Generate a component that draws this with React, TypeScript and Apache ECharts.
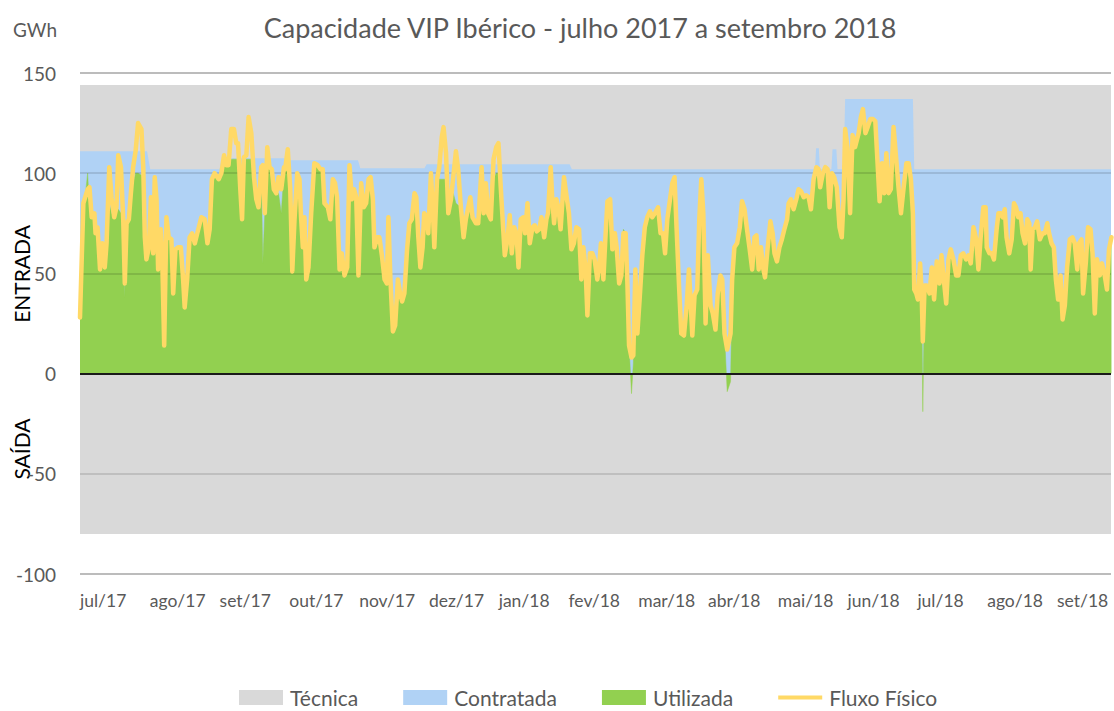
import React, { useEffect, useRef } from 'react';
import * as echarts from 'echarts';

const monthLabels = ['jul/17', 'ago/17', 'set/17', 'out/17', 'nov/17', 'dez/17', 'jan/18', 'fev/18', 'mar/18', 'abr/18', 'mai/18', 'jun/18', 'jul/18', 'ago/18', 'set/18'];
const yTicks = [-100, -50, 0, 50, 100, 150];
const lastDay = 458;
const tecnicaEntrada = 144;
const tecnicaSaida = -80;

const contratada: number[][] = [
  [0, 111], [29.8, 111], [31.2, 102], [62, 102], [63, 107.5], [92, 107.5], [92.5, 106.5], [123.5, 106.5], [124.5, 102.5],
  [153, 102.5], [154, 104.5], [217.5, 104.5], [218.5, 102], [326.5, 102], [327, 112.5], [328.2, 112.5], [328.7, 102],
  [333.8, 102], [334.3, 112], [336, 112], [336.5, 102], [339.2, 102], [339.9, 137], [370, 137], [370.6, 102], [458, 102],
];

const fluxoFisico: number[][] = [
  [0, 28], [1.5, 85], [3.4, 92], [4.2, 93], [5.2, 78], [6.4, 80], [6.9, 70], [7.8, 73], [8.9, 52], [9.9, 65], [11, 53], [11.8, 65],
  [13, 103], [14, 88], [15.2, 78], [16.2, 83], [17, 109], [18.2, 103], [19.2, 77], [19.9, 45], [20.7, 75], [21.7, 77], [22.6, 90],
  [23.6, 103], [24.7, 111], [25.8, 125], [27.3, 122], [28.1, 103], [28.8, 68], [29.5, 57], [30.6, 63], [31.5, 88], [32.5, 60],
  [33.2, 98], [34, 87], [34.7, 52], [35.9, 72], [36.5, 59], [37.4, 14], [38.4, 78], [39.4, 68], [40.6, 67], [41.4, 40], [42.4, 62],
  [43.6, 63], [44.8, 63], [45.8, 47], [46.5, 33], [47.6, 47], [48.7, 68], [49.8, 70], [51, 65], [52.1, 70], [53.9, 78],
  [55.4, 77], [56.6, 65], [57.6, 72], [58.6, 97], [59.8, 100], [61.6, 97], [62.8, 100], [64, 109], [65, 104], [66, 104],
  [67.2, 122], [68.4, 122], [69.4, 115], [70.2, 115], [71.2, 92], [72, 77], [72.8, 108], [73.9, 109], [74.9, 128], [76.1, 120],
  [77.3, 98], [78.3, 87], [79.3, 83], [80.5, 103], [81.2, 104], [82.1, 80], [83.2, 113], [84.2, 103], [85.2, 102], [86.1, 92],
  [87.2, 90], [88.2, 98], [89.4, 92], [90.6, 103], [91.1, 102], [92.3, 112], [93.4, 92], [94.3, 51], [95.3, 77], [96.5, 100],
  [97.5, 97], [98.2, 78], [99, 63], [99.7, 78], [100.5, 47], [101.5, 53], [102.7, 80], [104.1, 105], [105.6, 104], [106.8, 102],
  [107.8, 102], [108.6, 85], [110.1, 83], [111.2, 77], [112.3, 97], [113.3, 95], [114.2, 88], [115.3, 52],
  [116.3, 60], [117.5, 49], [118.7, 53], [119.7, 104], [120.8, 87], [121.7, 92], [122.7, 88], [123.7, 49], [124.9, 95],
  [126.1, 83], [127.1, 85], [128.2, 97], [129.1, 98], [130.1, 87], [130.8, 63], [132, 68], [133, 68], [134.1, 59], [135.3, 47],
  [136.3, 45], [137, 78], [137.9, 47], [139, 21], [140, 24], [141.2, 47], [142.2, 40], [143.1, 36], [144.1, 40], [145.3, 62],
  [146.3, 75], [147.4, 77], [148.6, 90], [149.4, 88], [150.3, 68], [151.2, 53], [152.2, 63], [152.9, 80], [154.2, 78],
  [154.7, 70], [155.9, 100], [156.7, 83], [157.4, 63], [158.6, 97], [159.6, 103], [160.7, 118], [161.5, 123], [162.6, 110],
  [163.6, 80], [164.8, 87], [165.8, 98], [167, 111], [168, 102], [169.2, 83], [170.4, 68], [171.4, 77],
  [173.4, 88], [174.4, 78], [175.9, 75], [176.9, 75], [178.4, 103], [179.3, 80], [180.3, 95], [181.3, 80], [182.5, 77],
  [183.7, 107], [184.9, 113], [185.9, 115], [186.9, 93], [188, 72], [188.7, 59], [189.9, 67], [190.9, 79], [191.8, 60],
  [192.9, 73], [193.9, 70], [194.8, 53], [195.8, 77], [196.9, 78], [197.7, 70], [198.8, 85], [199.8, 65], [201, 73], [202, 74],
  [202.9, 71], [204, 72], [205, 78], [206.2, 68], [207.2, 77], [207.9, 80], [209.1, 103], [209.8, 87], [210.6, 75], [211.6, 87],
  [212.5, 83], [213.5, 72], [215, 98], [216.2, 88], [217.2, 80], [218.3, 62], [219.4, 65], [220.5, 73], [221.7, 72], [222.7, 47],
  [223.6, 63], [224.6, 52], [225.4, 29], [226.5, 60], [227.6, 60], [228.6, 57], [229.8, 47],
  [230.6, 53], [231.4, 65], [232.5, 47], [233.6, 72], [234.3, 86], [235.5, 87], [236.5, 62], [237.6, 70], [238.4, 63],
  [239.5, 45], [240.5, 49], [241.4, 70], [242.4, 70], [243.2, 44], [243.9, 14], [245, 8], [245.8, 9], [246.7, 52], [247.6, 20],
  [248.6, 37], [249.8, 59], [250.9, 73], [252, 78], [253.2, 81], [254.2, 78], [255.4, 80], [256.8, 83], [257.9, 70], [259, 70],
  [259.9, 60], [260.9, 77], [262.1, 87], [263.1, 95], [264.1, 98], [265, 73], [266.1, 44], [267.1, 20], [268.3, 19], [269.5, 34],
  [270.5, 52], [271.2, 37], [272, 19], [273, 39], [274.2, 42], [275.1, 77], [276, 97], [276.9, 80], [277.9, 25], [278.9, 59],
  [280.1, 34], [281.1, 30], [282.3, 22], [283.3, 40], [284.5, 49], [285.3, 47], [286.3, 20], [287.5, 12],
  [289, 20], [289.7, 47], [290.7, 63], [291.9, 65], [293.1, 73], [294.1, 86], [295.2, 82], [296.3, 72], [297.5, 62], [298.6, 52],
  [299.6, 68], [300.5, 69], [301.5, 52], [302.5, 63], [303.4, 53], [304.3, 48], [305.5, 63], [306.7, 76], [307.7, 70], [308.5, 60],
  [309.6, 56], [310.7, 63], [311.8, 67], [312.9, 72], [314.1, 77], [314.8, 85], [315.8, 87], [317, 82], [318.2, 87], [319.2, 92],
  [320.3, 91], [321.5, 88], [322.6, 89], [323.7, 88], [324.7, 82], [325.9, 97], [327.1, 103], [328.1, 102], [328.8, 93], [330, 100],
  [331.1, 103], [332.1, 102], [333, 83], [334, 100], [335, 98], [336.2, 93], [337.4, 73], [338.4, 68], [339.2, 87], [339.9, 122],
  [340.9, 113], [342.1, 80], [343.2, 119], [344.3, 113],
  [345.9, 120], [346.9, 128], [347.8, 132], [348.9, 120], [349.9, 123], [351.1, 127], [352.3, 127], [353.3, 126], [354.3, 105],
  [355.2, 86], [356.3, 105], [357.3, 90], [358.2, 110], [359.2, 90], [360.2, 92], [361.4, 123], [362.6, 107], [363.6, 93],
  [364.7, 80], [365.9, 93], [367.1, 105], [368.1, 105], [369.1, 97], [370, 80], [370.6, 42], [371.5, 40], [372.2, 37], [373.2, 55],
  [373.9, 40], [374.4, 16], [375.2, 44], [376.2, 44], [377.4, 40], [378.4, 53], [379.4, 37], [380.6, 56], [381.8, 45], [382.7, 59],
  [383.9, 45], [384.8, 35], [385.8, 57], [386.8, 62], [388, 57], [389.2, 49], [390.2, 49], [391.3, 59], [392.4, 60], [393.6, 57],
  [394.7, 59], [395.7, 55], [396.9, 73], [398.1, 67], [399.1, 52], [400.1, 68], [401.3, 83], [402.3, 83],
  [402.8, 63], [404, 60], [405, 60], [406, 57], [407.2, 72], [408, 80], [409, 80], [409.9, 78], [410.8, 82], [411.6, 68],
  [412.8, 60], [413.9, 67], [414.9, 85], [415.8, 83], [416.8, 78], [417.8, 80], [418.7, 70], [419.8, 65], [420.8, 77], [421.7, 75],
  [422.3, 52], [423.2, 72], [424.2, 73], [425.2, 76], [426.4, 67], [427.6, 70], [428.6, 70], [429.7, 75], [430.5, 70], [431.6, 65],
  [432.6, 63], [433.5, 47], [434.5, 37], [435.6, 49], [436.5, 27], [437.5, 34], [438.5, 53], [439.7, 67], [440.9, 68], [441.9, 65],
  [443, 52], [443.8, 65], [444.9, 67], [445.6, 40], [446.8, 55], [447.8, 73], [448.9, 72], [449.8, 60], [450.8, 30], [451.8, 57],
  [453, 49], [454, 55], [455.2, 49], [456.2, 42], [457.1, 62], [458.2, 68],
];

const utilizada: number[][] = [
  [0, 28], [1.5, 80], [3.4, 100], [4.2, 82], [5.2, 78], [6.4, 80], [6.9, 70], [7.8, 73], [8.9, 52], [9.9, 65], [11, 53], [11.8, 65],
  [13, 85], [14, 80], [15.2, 78], [16.2, 83], [17, 82], [18.2, 80], [19.2, 77], [19.9, 38], [20.7, 75], [21.7, 77], [22.6, 90],
  [23.6, 95], [24.7, 100], [25.8, 100], [27.3, 99], [28.1, 95], [28.8, 68], [29.5, 57], [30.6, 63], [31.5, 88], [32.5, 60],
  [33.2, 98], [34, 87], [34.7, 52], [35.9, 72], [36.5, 59], [37.4, 14], [38.4, 78], [39.4, 68], [40.6, 67], [41.4, 40], [42.4, 62],
  [43.6, 63], [44.8, 63], [45.8, 47], [46.5, 33], [47.6, 47], [48.7, 68], [49.8, 70], [51, 65], [52.1, 70], [53.9, 78],
  [55.4, 77], [56.6, 65], [57.6, 72], [58.6, 97], [59.8, 100], [61.6, 97], [62.8, 100], [64, 107], [65, 104], [66, 104],
  [67.2, 107], [68.4, 107], [69.4, 107], [70.2, 107], [71.2, 92], [72, 77], [72.8, 107], [73.9, 107], [74.9, 107], [76.1, 107],
  [77.3, 98], [78.3, 87], [79.3, 83], [80.5, 103], [81.2, 55], [82.1, 80], [83.2, 107], [84.2, 103], [85.2, 102], [86.1, 92],
  [87.2, 90], [88.2, 90], [89.4, 80], [90.6, 100], [91.1, 102], [92.3, 106], [93.4, 92], [94.3, 51], [95.3, 77], [96.5, 100],
  [97.5, 97], [98.2, 78], [99, 63], [99.7, 78], [100.5, 47], [101.5, 53], [102.7, 80], [104.1, 105], [105.6, 104], [106.8, 102],
  [107.8, 102], [108.6, 85], [110.1, 83], [111.2, 77], [112.3, 97], [113.3, 95], [114.2, 88], [115.3, 52],
  [116.3, 60], [117.5, 49], [118.7, 53], [119.7, 104], [120.8, 87], [121.7, 92], [122.7, 88], [123.7, 49], [124.9, 95],
  [126.1, 83], [127.1, 85], [128.2, 97], [129.1, 98], [130.1, 87], [130.8, 63], [132, 68], [133, 68], [134.1, 59], [135.3, 47],
  [136.3, 45], [137, 78], [137.9, 47], [139, 21], [140, 24], [141.2, 47], [142.2, 40], [143.1, 36], [144.1, 40], [145.3, 62],
  [146.3, 75], [147.4, 77], [148.6, 90], [149.4, 88], [150.3, 68], [151.2, 53], [152.2, 63], [152.9, 80], [154.2, 78],
  [154.7, 70], [155.9, 100], [156.7, 83], [157.4, 63], [158.6, 97], [159.6, 97], [160.7, 97], [161.5, 97], [162.6, 97],
  [163.6, 80], [164.8, 87], [165.8, 90], [167, 85], [168, 84], [169.2, 83], [170.4, 68], [171.4, 77],
  [173.4, 88], [174.4, 78], [175.9, 75], [176.9, 75], [178.4, 103], [179.3, 80], [180.3, 95], [181.3, 80], [182.5, 77],
  [183.7, 97], [184.9, 100], [185.9, 100], [186.9, 93], [188, 72], [188.7, 59], [189.9, 67], [190.9, 79], [191.8, 60],
  [192.9, 73], [193.9, 70], [194.8, 53], [195.8, 77], [196.9, 78], [197.7, 70], [198.8, 85], [199.8, 65], [201, 73], [202, 74],
  [202.9, 71], [204, 72], [205, 78], [206.2, 68], [207.2, 77], [207.9, 80], [209.1, 95], [209.8, 87], [210.6, 75], [211.6, 87],
  [212.5, 83], [213.5, 72], [215, 98], [216.2, 88], [217.2, 80], [218.3, 62], [219.4, 65], [220.5, 73], [221.7, 72], [222.7, 47],
  [223.6, 63], [224.6, 52], [225.4, 29], [226.5, 60], [227.6, 60], [228.6, 57], [229.8, 47],
  [230.6, 53], [231.4, 65], [232.5, 47], [233.6, 72], [234.3, 86], [235.5, 87], [236.5, 62], [237.6, 70], [238.4, 63],
  [239.5, 45], [240.5, 49], [241.4, 72], [242.4, 70], [243.2, 44], [243.9, 14], [245, -10], [245.8, 5], [246.7, 52], [247.6, 20],
  [248.6, 37], [249.8, 59], [250.9, 73], [252, 78], [253.2, 81], [254.2, 78], [255.4, 80], [256.8, 83], [257.9, 70], [259, 70],
  [259.9, 60], [260.9, 77], [262.1, 87], [263.1, 95], [264.1, 98], [265, 73], [266.1, 44], [267.1, 20], [268.3, 19], [269.5, 34],
  [270.5, 52], [271.2, 37], [272, 19], [273, 39], [274.2, 42], [275.1, 77], [276, 97], [276.9, 80], [277.9, 25], [278.9, 59],
  [280.1, 34], [281.1, 30], [282.3, 22], [283.3, 40], [284.5, 49], [285.3, 47], [286.3, 20], [287.5, -9],
  [289, -4], [289.7, 40], [290.7, 63], [291.9, 65], [293.1, 73], [294.1, 86], [295.2, 82], [296.3, 72], [297.5, 62], [298.6, 52],
  [299.6, 68], [300.5, 69], [301.5, 52], [302.5, 63], [303.4, 53], [304.3, 48], [305.5, 63], [306.7, 76], [307.7, 70], [308.5, 60],
  [309.6, 56], [310.7, 63], [311.8, 67], [312.9, 72], [314.1, 77], [314.8, 85], [315.8, 87], [317, 82], [318.2, 87], [319.2, 92],
  [320.3, 91], [321.5, 88], [322.6, 89], [323.7, 88], [324.7, 82], [325.9, 97], [327.1, 100], [328.1, 99], [328.8, 93], [330, 100],
  [331.1, 100], [332.1, 99], [333, 83], [334, 100], [335, 98], [336.2, 93], [337.4, 73], [338.4, 68], [339.2, 87], [339.9, 112],
  [340.9, 112], [342.1, 80], [343.2, 112], [344.3, 113],
  [345.9, 120], [346.9, 128], [347.8, 132], [348.9, 120], [349.9, 123], [351.1, 127], [352.3, 127], [353.3, 126], [354.3, 105],
  [355.2, 86], [356.3, 105], [357.3, 90], [358.2, 110], [359.2, 90], [360.2, 92], [361.4, 123], [362.6, 107], [363.6, 93],
  [364.7, 80], [365.9, 93], [367.1, 105], [368.1, 105], [369.1, 97], [370, 80], [370.6, 42], [371.5, 40], [372.2, 37], [373.2, 55],
  [373.9, 40], [374.4, -19], [375.2, 44], [376.2, 44], [377.4, 40], [378.4, 53], [379.4, 37], [380.6, 56], [381.8, 45], [382.7, 59],
  [383.9, 45], [384.8, 35], [385.8, 57], [386.8, 62], [388, 57], [389.2, 49], [390.2, 49], [391.3, 59], [392.4, 60], [393.6, 57],
  [394.7, 59], [395.7, 55], [396.9, 73], [398.1, 67], [399.1, 52], [400.1, 68], [401.3, 83], [402.3, 83],
  [402.8, 63], [404, 60], [405, 60], [406, 57], [407.2, 72], [408, 80], [409, 80], [409.9, 78], [410.8, 82], [411.6, 68],
  [412.8, 60], [413.9, 67], [414.9, 85], [415.8, 83], [416.8, 78], [417.8, 80], [418.7, 70], [419.8, 65], [420.8, 77], [421.7, 75],
  [422.3, 52], [423.2, 72], [424.2, 73], [425.2, 76], [426.4, 67], [427.6, 70], [428.6, 70], [429.7, 75], [430.5, 70], [431.6, 65],
  [432.6, 63], [433.5, 47], [434.5, 37], [435.6, 49], [436.5, 27], [437.5, 34], [438.5, 53], [439.7, 67], [440.9, 68], [441.9, 65],
  [443, 52], [443.8, 65], [444.9, 67], [445.6, 40], [446.8, 55], [447.8, 73], [448.9, 72], [449.8, 60], [450.8, 30], [451.8, 57],
  [453, 49], [454, 55], [455.2, 49], [456.2, 42], [457.1, 62], [458.2, 68],
];

const FONT = 'Lato, "Open Sans", sans-serif';
const TEXT_GRAY = '#595959';

export default function App() {
  const ref = useRef<HTMLDivElement>(null);

  useEffect(() => {
    if (!ref.current) return;
    const chart = echarts.init(ref.current, null, { renderer: 'svg' });

    const option: any = {
      animation: false,
      backgroundColor: '#ffffff',
      textStyle: { fontFamily: FONT },
      title: {
        text: 'Capacidade VIP Ibérico - julho 2017 a setembro 2018',
        left: 575,
        textAlign: 'center',
        top: 9,
        textStyle: { fontFamily: FONT, fontSize: 27, fontWeight: 'normal', color: TEXT_GRAY },
      },
      graphic: [
        { type: 'text', left: 13, top: 20, style: { text: 'GWh', fontFamily: FONT, fontSize: 19, fill: TEXT_GRAY } },
        {
          type: 'text', x: 21, y: 274, rotation: Math.PI / 2,
          style: { text: 'ENTRADA', fontFamily: FONT, fontSize: 21, fill: '#000', align: 'center', verticalAlign: 'middle' },
        },
        {
          type: 'text', x: 21, y: 449, rotation: Math.PI / 2,
          style: { text: 'SAÍDA', fontFamily: FONT, fontSize: 21, fill: '#000', align: 'center', verticalAlign: 'middle' },
        },
      ],
      legend: {
        left: 239,
        top: 687,
        padding: 0,
        itemGap: 45,
        itemWidth: 44,
        itemHeight: 15,
        textStyle: { fontFamily: FONT, fontSize: 21, color: TEXT_GRAY, padding: [0, 0, 0, 2] },
        data: [
          { name: 'Técnica', icon: 'rect', itemStyle: { color: '#D9D9D9' } },
          { name: 'Contratada', icon: 'rect', itemStyle: { color: '#B0D2F5' } },
          { name: 'Utilizada', icon: 'rect', itemStyle: { color: '#92D050' } },
          { name: 'Fluxo Físico', icon: 'path://M0,0H44V4H0Z', itemStyle: { color: '#FFD966' } },
        ],
      },
      grid: { left: 80, right: 0, top: 73, bottom: 137, containLabel: false },
      xAxis: {
        type: 'value',
        min: 0,
        max: lastDay,
        interval: 31,
        axisLine: { show: false },
        axisTick: { show: false },
        splitLine: { show: false },
        axisLabel: {
          margin: 17,
          align: 'left',
          fontFamily: FONT,
          fontSize: 17.5,
          color: TEXT_GRAY,
          formatter: (v: number) => {
            const i = v / 31;
            return Number.isInteger(i) && monthLabels[i] ? monthLabels[i] : '';
          },
        },
      },
      yAxis: {
        type: 'value',
        min: yTicks[0],
        max: yTicks[yTicks.length - 1],
        interval: 50,
        axisLine: { show: false },
        axisTick: { show: false },
        axisLabel: { margin: 24, fontFamily: FONT, fontSize: 19, color: TEXT_GRAY },
        splitLine: { show: true, lineStyle: { color: '#A6A6A6', width: 1.5 } },
      },
      series: [
        {
          name: 'Técnica', type: 'line', z: 1, color: '#D9D9D9', symbol: 'none', silent: true,
          lineStyle: { width: 0 }, areaStyle: { color: '#D9D9D9', opacity: 1 },
          data: [[0, tecnicaEntrada], [lastDay, tecnicaEntrada]],
        },
        {
          name: 'Técnica', type: 'line', z: 1, color: '#D9D9D9', symbol: 'none', silent: true,
          lineStyle: { width: 0 }, areaStyle: { color: '#D9D9D9', opacity: 1 },
          data: [[0, tecnicaSaida], [lastDay, tecnicaSaida]],
        },
        {
          name: 'Contratada', type: 'line', z: 2, color: '#B0D2F5', symbol: 'none', silent: true,
          lineStyle: { width: 0 }, areaStyle: { color: '#B0D2F5', opacity: 1 },
          data: contratada,
        },
        {
          name: 'grade', type: 'line', z: 3, symbol: 'none', silent: true, data: [],
          markLine: {
            silent: true, symbol: ['none', 'none'], label: { show: false },
            lineStyle: { color: 'rgba(0,0,0,0.16)', width: 1.5, type: 'solid' },
            data: [{ yAxis: 100 }, { yAxis: 50 }, { yAxis: -50 }],
          },
        },
        {
          name: 'Utilizada', type: 'line', z: 4, color: '#92D050', symbol: 'none', silent: true,
          lineStyle: { width: 0.5, color: '#92D050' }, areaStyle: { color: '#92D050', opacity: 1 },
          data: utilizada,
        },
        {
          name: 'zero', type: 'line', z: 5, symbol: 'none', silent: true, data: [],
          markLine: {
            silent: true, symbol: ['none', 'none'], label: { show: false },
            lineStyle: { color: '#1a1a1a', width: 2, type: 'solid' },
            data: [{ yAxis: 0 }],
          },
        },
        {
          name: 'Fluxo Físico', type: 'line', z: 6, color: '#FFD966', symbol: 'none', showSymbol: false, silent: true,
          lineStyle: { width: 4.5, color: '#FFD966', join: 'round', cap: 'round' },
          data: fluxoFisico,
        },
      ],
    };

    chart.setOption(option);
    return () => chart.dispose();
  }, []);

  return <div ref={ref} style={{ position: 'absolute', left: 0, top: 0, width: 1114, height: 711 }} />;
}
